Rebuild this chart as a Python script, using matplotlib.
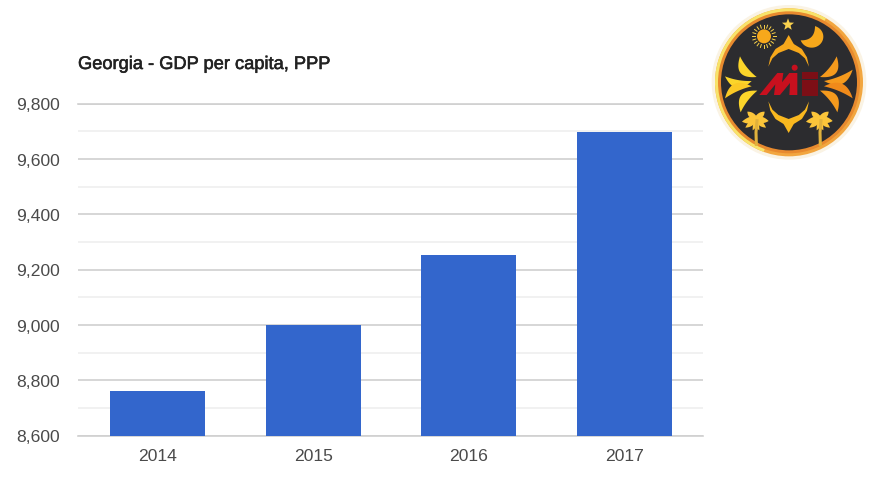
import numpy as np
import matplotlib
matplotlib.use("Agg")
import matplotlib.pyplot as plt
import matplotlib.patheffects as pe
from matplotlib.patches import Circle, Polygon, Wedge

plt.rcParams["font.family"] = ["Liberation Sans", "DejaVu Sans"]

years = ["2014", "2015", "2016", "2017"]
gdp_per_capita = [8760, 9000, 9253, 9697]
major_ticks = [8600, 8800, 9000, 9200, 9400, 9600, 9800]
minor_ticks = [8700, 8900, 9100, 9300, 9500, 9700]
title = "Georgia - GDP per capita, PPP"

W, H = 877, 489
fig = plt.figure(figsize=(W / 100, H / 100), dpi=100)
ax = fig.add_axes([78 / W, 1 - 436.5 / H, 625 / W, 332 / H])

ax.bar(range(4), gdp_per_capita, width=0.61, color="#3366cc", zorder=3)
ax.set_xlim(-0.51, 3.503)
ax.set_ylim(8600, 9800)
ax.set_xticks(range(4), years)
ax.set_yticks(major_ticks, [f"{v:,}" for v in major_ticks])
ax.set_yticks(minor_ticks, minor=True)
ax.grid(axis="y", which="major", color="#d0d0d0", lw=1.2, zorder=1)
ax.grid(axis="y", which="minor", color="#efefef", lw=1.2, zorder=1)
ax.tick_params(axis="both", which="both", length=0, labelsize=12.6, labelcolor="#4a4a4a")
ax.tick_params(axis="x", pad=9)
ax.tick_params(axis="y", pad=13)
for s in ax.spines.values():
    s.set_visible(False)
ax.axhline(8600, color="#d0d0d0", lw=1.2, zorder=2, clip_on=False)
ax.axhline(9800, color="#d0d0d0", lw=1.2, zorder=2, clip_on=False)
fig.text(78 / W, 1 - 65.5 / H, title, fontsize=13.15, color="#222222", va="center",
         path_effects=[pe.withStroke(linewidth=0.4, foreground="#222222")])

# --- logo badge, drawn in zoomed-crop coordinates (3x, offset 700,0) ---
lg = fig.add_axes([0, 0, 1, 1], zorder=5)
lg.set_xlim(-2100, W * 3 - 2100)
lg.set_ylim(H * 3, 0)
lg.axis("off")
lg.patch.set_alpha(0)


def poly(pts, color, **kw):
    lg.add_patch(Polygon(pts, closed=True, fc=color, ec="none", **kw))


def petal(x0, y0, x1, y1, bulge, color, inner=0.15):
    # curved leaf between two tips
    s = np.linspace(0, 1, 24)
    dx, dy = x1 - x0, y1 - y0
    n = np.array([-dy, dx]) / np.hypot(dx, dy)
    mx, my = x0 + dx * s, y0 + dy * s
    a = 4 * s * (1 - s)
    up = np.c_[mx + n[0] * bulge * a, my + n[1] * bulge * a]
    lo = np.c_[mx + n[0] * bulge * inner * a, my + n[1] * bulge * inner * a]
    poly(np.r_[up, lo[::-1]], color)


def dome(sign, color):
    # onion-shaped crescent above (sign -1) or below (sign 1) the centre
    t = np.linspace(-1, 1, 61)
    x = 266 + 61 * t
    outer = 255 + sign * np.interp(np.abs(t), [0, 0.25, 0.65, 0.9, 1], [147, 120, 105, 80, 52])
    inner = 255 + sign * np.interp(np.abs(t), [0, 0.5, 0.8, 1], [105, 93, 77, 52])
    poly(np.r_[np.c_[x, outer], np.c_[x, inner][::-1]], color)


cx, cy = 267, 250
lg.add_patch(Circle((cx, cy), 232, fc="#faf3e4", ec="none"))
lg.add_patch(Circle((cx, cy), 222, fc="#f2a63f", ec="none"))
lg.add_patch(Wedge((cx, cy), 222, 110, 300, fc="#f8e36a", ec="none"))
lg.add_patch(Circle((cx, cy), 213, fc="#e88a2e", ec="none"))
lg.add_patch(Circle((cx, cy), 204, fc="#2c2c2f", ec="none"))

# sun, star, moon
lg.add_patch(Circle((192, 112), 21, fc="#f7a81b", ec="none"))
for a in np.arange(0, 360, 18):
    c, s = np.cos(np.radians(a)), np.sin(np.radians(a))
    lg.plot([192 + 26 * c, 192 + 35 * c], [112 + 26 * s, 112 + 35 * s],
            color="#f9d24a", lw=0.7)
ang = np.radians(np.arange(-90, 270, 36))
rad = np.where(np.arange(10) % 2 == 0, 19, 8)
poly(np.c_[264 + rad * np.cos(ang), 77 + rad * np.sin(ang)], "#fbd24e")
t = np.radians(np.linspace(-73, 160, 40))
moon_out = np.c_[335 + 35 * np.cos(t), 113 + 33 * np.sin(t)]
u = np.linspace(0, 1, 30)[:, None]
p0, p1, p2 = np.array([345, 81]), np.array([345, 125]), np.array([302, 124])
moon_in = (1 - u) ** 2 * p0 + 2 * u * (1 - u) * p1 + u ** 2 * p2
poly(np.r_[moon_out, moon_in[::-1]], "#f7a81b")

dome(-1, "#f7a81b")
dome(1, "#f9b81f")

# side flames
for tip, base, b, col in [((120, 172), (170, 234), 30, "#fbd52a"),
                          ((75, 232), (155, 246), 28, "#fbd52a"),
                          ((75, 298), (155, 262), -28, "#fbc925"),
                          ((122, 340), (172, 275), -30, "#fbd52a")]:
    petal(*tip, *base, b, col)
for tip, base, b, col in [((410, 172), (360, 234), -30, "#f59a1d"),
                          ((458, 212), (372, 246), -28, "#f59a1d"),
                          ((458, 298), (372, 262), 28, "#f08a1a"),
                          ((412, 340), (360, 275), 30, "#f59a1d")]:
    petal(*tip, *base, b, col)

# palms
for px in (168, 360):
    lg.plot([px + 3, px, px + 1], [365, 400, 436], color="#e0b13c", lw=2.2)
    for dx0, dy0, bb in [(-42, 18, -14), (-32, 36, -12), (-10, 44, -10), (38, 16, 14),
                         (30, 36, 12), (10, 44, 10), (-26, -12, -12), (26, -12, 12)]:
        petal(px, 350, px + dx0, 350 + dy0, bb, "#fbc53a", inner=-0.3)

# red M and E
poly([(178, 288), (232, 222), (250, 222), (246, 250), (268, 222), (292, 222),
      (292, 288), (268, 288), (270, 252), (240, 288), (222, 288), (226, 256),
      (200, 288)], "#c8101e")
lg.add_patch(Circle((284, 206), 9, fc="#c8101e", ec="none"))
for y0 in (219, 244, 268):
    poly([(306, y0), (354, y0), (354, y0 + 22), (306, y0 + 22)], "#7c0f16")

fig.savefig("out.png", dpi=100)
